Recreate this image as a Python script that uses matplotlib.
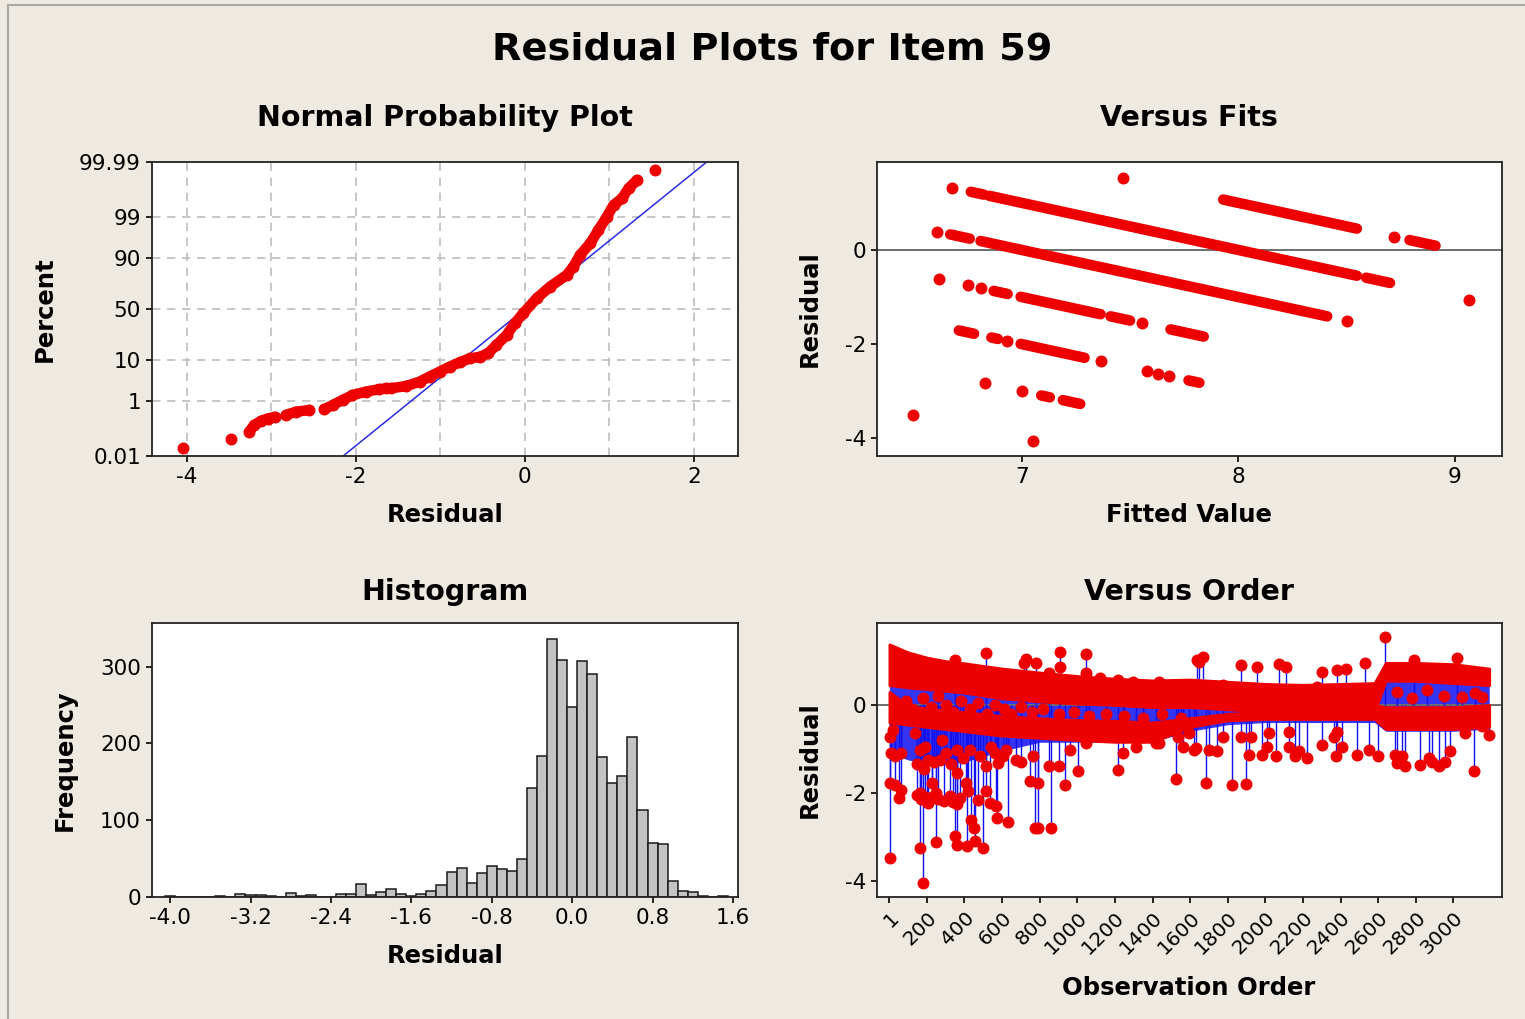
import numpy as np
import matplotlib
matplotlib.use('Agg')
import matplotlib.pyplot as plt
from matplotlib.lines import Line2D
from statistics import NormalDist

plt.rcParams['font.family'] = ['DejaVu Sans']
plt.rcParams['axes.unicode_minus'] = False

# ---------------- data ----------------
# Normal probability plot: residual, percent, run id (points that touch)
npp_resid = [-4.04, -3.48,
             -3.262, -3.20, -3.12, -3.04, -2.96,
             -2.829, -2.71, -2.552,
             -2.374, -2.275, -2.156, -2.04, -1.88, -1.72, -1.64,
             -1.58, -1.405, -1.246, -1.128, -1.009, -0.89, -0.772, -0.653, -0.534,
             -0.436, -0.336, -0.217, -0.119, -0.02, 0.139, 0.297, 0.495, 0.573,
             0.653, 0.772, 0.87, 0.97, 1.048, 1.148, 1.227, 1.326,
             1.543]
npp_pct = [0.021, 0.052,
           0.095, 0.166, 0.233, 0.28, 0.317,
           0.364, 0.466, 0.528,
           0.56, 0.75, 1.07, 1.46, 1.83, 2.12, 2.22,
           2.25, 2.56, 3.29, 4.36, 5.63, 7.21, 8.85, 10.56, 11.31,
           13.14, 18.14, 25.46, 35.94, 45.62, 60.64, 71.4, 80.51, 85.77,
           91.42, 95.18, 97.72, 99.03, 99.573, 99.744, 99.887, 99.945,
           99.978]
npp_run = [0, 1,
           2, 2, 2, 2, 2,
           3, 3, 3,
           4, 4, 4, 4, 4, 4, 4,
           5, 5, 5, 5, 5, 5, 5, 5, 5,
           5, 5, 5, 5, 5, 5, 5, 5, 5,
           5, 5, 5, 5, 5, 5, 5, 5,
           6]
fit_mean = 0.0
fit_sd = 0.578
pct_ticks = [0.01, 1, 10, 50, 90, 99, 99.99]
pct_labels = ['0.01', '1', '10', '50', '90', '99', '99.99']
pct_grid = [1, 10, 50, 90, 99]
npp_xticks = [-4, -2, 0, 2]
npp_xgrid = [-4, -3, -2, -1, 0, 1, 2]

# Versus fits: observed value and fitted range for dense runs
fits_run_obs = [8, 8, 8, 9, 9, 7, 7, 6, 6, 6, 6, 5, 5, 5, 5, 4, 4]
fits_run_from = [6.765, 6.85, 8.59, 7.93, 8.79, 6.67, 6.81, 6.87, 6.995, 7.41, 7.687,
                 6.71, 6.86, 6.995, 7.77, 7.09, 7.19]
fits_run_to = [6.825, 8.547, 8.70, 8.547, 8.91, 6.76, 8.41, 6.935, 7.364, 7.50, 7.84,
               6.78, 6.89, 7.29, 7.82, 7.13, 7.27]
# single observations
fits_pt_obs = [8, 9, 9, 8, 7, 7, 6, 6, 6, 6, 5, 5, 5, 5, 5, 4, 4, 3, 3]
fits_pt_fit = [6.676, 7.467, 8.72, 9.066, 6.61, 8.50, 6.62, 6.75, 6.81, 7.556,
               6.934, 7.364, 7.58, 7.63, 7.68, 6.83, 7.003, 7.05, 6.496]
fits_xticks = [7, 8, 9]
resid_yticks = [0, -2, -4]

# Histogram
hist_centers = [-4.0, -3.9, -3.8, -3.7, -3.6, -3.5, -3.4, -3.3, -3.2, -3.1,
                -3.0, -2.9, -2.8, -2.7, -2.6, -2.5, -2.4, -2.3, -2.2, -2.1,
                -2.0, -1.9, -1.8, -1.7, -1.6, -1.5, -1.4, -1.3, -1.2, -1.1,
                -1.0, -0.9, -0.8, -0.7, -0.6, -0.5, -0.4, -0.3, -0.2, -0.1,
                0.0, 0.1, 0.2, 0.3, 0.4, 0.5, 0.6, 0.7, 0.8, 0.9,
                1.0, 1.1, 1.2, 1.3, 1.4, 1.5]
hist_counts = [1, 0, 0, 0, 0, 1, 0, 4, 2, 2,
               1, 0, 5, 1, 3, 0, 0, 4, 4, 17,
               3, 6, 10, 4, 1, 4, 8, 15, 33, 38,
               18, 31, 41, 36, 34, 49, 142, 184, 336, 309,
               248, 308, 290, 182, 148, 158, 208, 114, 71, 69,
               21, 8, 6, 1, 0, 1]
hist_xticks = [-4.0, -3.2, -2.4, -1.6, -0.8, 0.0, 0.8, 1.6]
hist_yticks = [0, 100, 200, 300]

# Versus order: dense bands (upper / lower) at knot observations
order_knots = [1, 100, 200, 300, 400, 600, 800, 1000, 1200, 1400, 1600, 1800,
               2000, 2200, 2400, 2580, 2640, 2800, 3000, 3190]
band_u_top = [1.38, 1.20, 1.08, 1.00, 0.95, 0.83, 0.74, 0.66, 0.60, 0.56, 0.58, 0.53,
              0.48, 0.46, 0.48, 0.50, 0.96, 0.96, 0.93, 0.83]
band_u_bot = [0.45, 0.40, 0.36, 0.32, 0.28, 0.15, 0.08, 0.03, 0.00, -0.05, -0.05, -0.10,
              -0.15, -0.15, -0.15, -0.15, 0.55, 0.55, 0.50, 0.45]
band_l_top = [0.30, -0.02, -0.08, -0.12, -0.16, -0.25, -0.30, -0.34, -0.36, -0.40, -0.30, -0.20,
              -0.15, -0.10, -0.05, 0.00, -0.05, -0.05, -0.05, 0.00]
band_l_bot = [-0.40, -0.45, -0.50, -0.55, -0.60, -0.70, -0.75, -0.80, -0.84, -0.84, -0.50, -0.35,
              -0.32, -0.32, -0.32, -0.32, -0.55, -0.55, -0.55, -0.50]
# lowest extent of the dense blue stems
stem_floor = [-1.10, -1.25, -1.35, -1.35, -1.30, -1.05, -0.85, -0.85, -0.84, -0.84, -0.60, -0.45,
              -0.40, -0.40, -0.40, -0.40, -0.60, -0.60, -0.60, -0.55]
# scattered observations outside the dense bands
order_pt_obs = [4, 21, 12, 30, 65, 4, 30, 65, 53, 4,
                136, 163, 190, 207, 163, 181, 207, 225, 163, 181, 251, 251, 278, 322,
                150, 170, 190, 200, 230, 260, 290, 340, 360,
                304, 358, 349, 361, 410, 419, 437, 449, 414, 455, 499, 375, 472, 516, 516,
                428, 358, 481, 269, 393, 240, 330, 150, 185,
                573, 631, 570, 534, 605, 675, 622, 560, 578, 543,
                746, 791, 773, 791, 862, 852, 905, 937, 1003, 764, 701, 959, 1047,
                1215, 1242, 1312, 1348, 1436, 1525, 1534, 1560, 1595, 1622, 1418,
                516, 728, 719, 781, 909, 909, 1047, 1047, 1639, 349, 852, 1118, 1215, 1295, 1436,
                1666, 1648, 1869, 1958, 2072, 2108, 2302, 2382, 2426, 2532, 2635, 2789, 3019,
                1772, 2276,
                1683, 1825, 1899, 1630, 1701, 1772, 1745, 1913, 1869, 2019, 2125,
                1984, 2055, 2157, 2223, 2302, 2373, 2408, 2488, 2550, 2599,
                2691, 2700, 2824, 2868, 2921, 2957, 2983, 3107, 1922, 2125, 2011,
                2179, 2364, 2382, 2744, 2727, 2886, 3151, 3187, 3063, 3116, 3151, 3045,
                90, 120, 180, 220, 260, 300, 340, 380, 430, 470, 520, 560, 610, 650,
                700, 760, 820, 900, 980, 1060, 1150, 1250, 1350, 1450, 1550,
                2700, 2780, 2860, 2950]
order_pt_res = [-0.72, -0.57, -1.10, -1.17, -1.10, -1.78, -1.82, -1.93, -2.12, -3.48,
                -0.64, -1.02, -0.95, -1.25, -2.0, -2.08, -2.23, -1.78, -3.26, -4.05, -3.12, -2.0, -0.80, -2.08,
                -2.05, -2.15, -2.10, -2.20, -2.10, -2.15, -2.18, -2.20, -2.25,
                -1.10, -1.55, -2.99, -3.20, -1.78, -1.97, -2.63, -2.80, -3.22, -3.11, -3.26, -2.12, -2.16, -1.97, -1.40,
                -1.02, -1.02, -1.17, -1.25, -1.21, -1.30, -1.35, -1.35, -1.45,
                -2.58, -2.66, -2.31, -2.23, -1.17, -1.25, -1.02, -1.10, -1.33, -0.95,
                -1.74, -1.78, -2.80, -2.80, -2.80, -1.40, -1.40, -1.82, -1.50, -1.17, -1.29, -1.02, -0.87,
                -1.48, -1.10, -0.95, -0.72, -0.87, -1.69, -0.72, -0.95, -0.64, -1.02, -0.87,
                1.19, 1.04, 0.95, 0.95, 1.21, 0.87, 1.16, 0.72, 1.02, 1.02, 0.72, 0.61, 0.57, 0.53, 0.53,
                1.10, 0.98, 0.91, 0.86, 0.93, 0.86, 0.76, 0.80, 0.81, 0.95, 1.55, 1.02, 1.06,
                0.45, 0.42,
                -1.78, -1.82, -1.80, -0.98, -1.02, -0.72, -1.06, -1.14, -0.72, -0.64, -0.61,
                -1.14, -1.17, -1.17, -1.21, -0.91, -1.17, -0.95, -1.14, -1.02, -1.17,
                -1.14, -1.33, -1.36, -1.21, -1.40, -1.29, -1.06, -1.50, -0.72, -0.95, -0.95,
                -1.06, -0.72, -0.61, -1.40, -1.17, -1.29, -0.49, -0.68, -0.64, 0.27, 0.19, 0.19,
                0.10, -0.10, 0.15, -0.05, 0.20, 0.00, -0.15, 0.10, -0.10, 0.05, -0.20, 0.00, -0.10, -0.20,
                -0.05, -0.15, -0.10, -0.20, -0.15, -0.25, -0.20, -0.25, -0.30, -0.20, -0.30,
                0.30, 0.15, 0.35, 0.20]
order_xticks = [1, 200, 400, 600, 800, 1000, 1200, 1400, 1600, 1800, 2000,
                2200, 2400, 2600, 2800, 3000]

# ---------------- style ----------------
W, H = 1525, 1019
BG = '#EFEAE1'
RED = '#EE0000'
BLUE = '#1010F0'
MS = 7.6
TICK_FS = 15.5
LAB_FS = 17.5
SUB_FS = 20.5


def fx(x):
    return x / W


def fy(y):
    return 1 - y / H


def axes_px(l, t, r, b):
    return [fx(l), fy(b), fx(r) - fx(l), fy(t) - fy(b)]


fig = plt.figure(figsize=(W / 100, H / 100), dpi=100, facecolor=BG)

# outer frame lines (top, left)
fig.add_artist(Line2D([fx(8), fx(W)], [fy(5), fy(5)], color='#A8A8A8', lw=1.5,
                      transform=fig.transFigure))
fig.add_artist(Line2D([fx(8), fx(8)], [fy(5), fy(H)], color='#A8A8A8', lw=1.5,
                      transform=fig.transFigure))


def style_axes(ax):
    ax.set_facecolor('white')
    for s in ax.spines.values():
        s.set_linewidth(1.3)
        s.set_color('#222222')
    ax.tick_params(direction='out', length=4, width=1.2, labelsize=TICK_FS,
                   pad=4, colors='black', top=False, right=False)


# ---------- Normal probability plot ----------
nd = NormalDist()


def z_of(p):
    return nd.inv_cdf(p / 100.0)


zlim = z_of(99.99)
ax1 = fig.add_axes(axes_px(152, 162, 738, 456))
style_axes(ax1)
ax1.set_xlim(-4.41, 2.52)
ax1.set_ylim(-zlim, zlim)
for gx in npp_xgrid:
    ax1.axvline(gx, color='#BDBDBD', lw=1.2, ls=(0, (5, 4)), zorder=0)
for gp in pct_grid:
    ax1.axhline(z_of(gp), color='#BDBDBD', lw=1.2, ls=(0, (5, 4)), zorder=0)
ax1.plot([fit_mean - fit_sd * zlim, fit_mean + fit_sd * zlim], [-zlim, zlim],
         color='#2B2BE0', lw=1.1, zorder=2)
npp_r = np.array(npp_resid)
npp_z = np.array([z_of(p) for p in npp_pct])
runs = np.array(npp_run)
for rid in sorted(set(npp_run)):
    m = runs == rid
    ax1.plot(npp_r[m], npp_z[m], color=RED, lw=MS, solid_capstyle='round',
             solid_joinstyle='round', marker='o', ms=MS, mfc=RED, mec=RED, zorder=3)
ax1.set_xticks(npp_xticks)
ax1.set_xticklabels([str(v) for v in npp_xticks])
ax1.set_yticks([z_of(p) for p in pct_ticks])
ax1.set_yticklabels(pct_labels)

# ---------- Versus fits ----------
ax2 = fig.add_axes(axes_px(877, 162, 1502, 456))
style_axes(ax2)
ax2.set_xlim(6.332, 9.217)
ax2.set_ylim(-4.376, 1.868)
ax2.axhline(0, color='#6E6E6E', lw=1.4, zorder=1)
for o, f0, f1 in zip(fits_run_obs, fits_run_from, fits_run_to):
    ax2.plot([f0, f1], [o - f0, o - f1], color=RED, lw=MS, solid_capstyle='round', zorder=3)
pf = np.array(fits_pt_fit)
po = np.array(fits_pt_obs)
ax2.plot(pf, po - pf, 'o', color=RED, ms=MS, mec=RED, zorder=3)
ax2.set_xticks(fits_xticks)
ax2.set_xticklabels([str(v) for v in fits_xticks])
ax2.set_yticks(resid_yticks)
ax2.set_yticklabels([str(v) for v in resid_yticks])

# ---------- Histogram ----------
ax3 = fig.add_axes(axes_px(152, 623, 738, 897))
style_axes(ax3)
ax3.bar(hist_centers, hist_counts, width=0.1, color='#C3C3C3', edgecolor='#1A1A1A',
        linewidth=1.1, zorder=2)
ax3.set_xlim(-4.18, 1.65)
ax3.set_ylim(0, 357)
ax3.set_xticks(hist_xticks)
ax3.set_xticklabels(['%.1f' % v for v in hist_xticks])
ax3.set_yticks(hist_yticks)
ax3.set_yticklabels([str(v) for v in hist_yticks])

# ---------- Versus order ----------
ax4 = fig.add_axes(axes_px(877, 623, 1502, 897))
style_axes(ax4)
ax4.set_xlim(-65, 3258)
ax4.set_ylim(-4.376, 1.868)
k = np.array(order_knots)
ut, ub = np.array(band_u_top), np.array(band_u_bot)
lt, lb = np.array(band_l_top), np.array(band_l_bot)
sf = np.array(stem_floor)
# stems of the dense band observations
ax4.fill_between(k, sf, np.maximum(ut, 0), color=BLUE, lw=0, alpha=0.85, zorder=1)
ox = np.array(order_pt_obs)
oy = np.array(order_pt_res)
ax4.vlines(ox, 0, oy, color=BLUE, lw=1.0, zorder=1.5)
ax4.axhline(0, color='#6E6E6E', lw=1.4, zorder=1.2)
ax4.fill_between(k, ub, ut, color=RED, lw=2, edgecolor=RED, zorder=2)
ax4.fill_between(k, lb, lt, color=RED, lw=2, edgecolor=RED, zorder=2)
ax4.plot(ox, oy, 'o', color=RED, ms=MS, mec=RED, zorder=3)
ax4.set_xticks(order_xticks)
ax4.set_xticklabels([str(v) for v in order_xticks], rotation=45, ha='right',
                    rotation_mode='anchor', fontsize=14.5)
ax4.set_yticks(resid_yticks)
ax4.set_yticklabels([str(v) for v in resid_yticks])

# ---------- texts ----------
fig.text(fx(772), fy(50), 'Residual Plots for Item 59', ha='center', va='center',
         fontsize=27.5, fontweight='bold')
for x, y, s in [(445, 118, 'Normal Probability Plot'), (1189, 118, 'Versus Fits'),
                (445, 592, 'Histogram'), (1189, 592, 'Versus Order')]:
    fig.text(fx(x), fy(y), s, ha='center', va='center', fontsize=SUB_FS, fontweight='bold')
for x, y, s in [(445, 515, 'Residual'), (1189, 515, 'Fitted Value'),
                (445, 956, 'Residual'), (1189, 988, 'Observation Order')]:
    fig.text(fx(x), fy(y), s, ha='center', va='center', fontsize=LAB_FS, fontweight='bold')
for x, y, s in [(45, 309, 'Percent'), (810, 309, 'Residual'),
                (65, 760, 'Frequency'), (810, 760, 'Residual')]:
    fig.text(fx(x), fy(y), s, ha='center', va='center', rotation=90, fontsize=LAB_FS,
             fontweight='bold')

fig.savefig('out.png', dpi=100, facecolor=BG)
